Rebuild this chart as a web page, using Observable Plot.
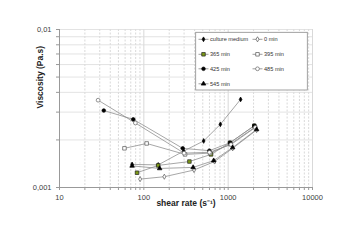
<!DOCTYPE html>
<html><head><meta charset="utf-8">
<script src="https://cdn.jsdelivr.net/npm/d3@7"></script>
<script src="https://cdn.jsdelivr.net/npm/@observablehq/plot@0.6"></script>
<style>body{margin:0;background:#fff;} #chart{width:351px;height:248px;}</style>
</head><body><div id="chart"></div>
<script>
// Data (shear rate s^-1, viscosity Pa.s)
const cultureX = [72.6, 148, 297, 512, 808, 1404];
const cultureY = [0.00140, 0.00139, 0.00170, 0.00197, 0.00251, 0.00361];
const min0X = [90.3, 175, 394, 690, 1130, 2174];
const min0Y = [0.00113, 0.00117, 0.00129, 0.00146, 0.00177, 0.00231];
const min365X = [83, 148, 347, 627, 1052, 2040];
const min365Y = [0.00124, 0.00138, 0.00146, 0.00162, 0.00192, 0.00246];
const min395X = [58.9, 108, 308, 610, 1060, 2080];
const min395Y = [0.00177, 0.00190, 0.00162, 0.00165, 0.00188, 0.00241];
const min425X = [33.5, 75, 289, 598, 1052, 2040];
const min425Y = [0.00307, 0.00270, 0.00177, 0.00171, 0.00192, 0.00246];
const min485X = [28.7, 79.4, 300, 600, 1080, 2100];
const min485Y = [0.00357, 0.00256, 0.00165, 0.00167, 0.00187, 0.00240];
const min545X = [72.6, 154, 384, 673, 1130, 2174];
const min545Y = [0.00137, 0.00132, 0.00134, 0.00148, 0.00179, 0.00233];

const seriesNames = ["culture medium", "0 min", "365 min", "395 min", "425 min", "485 min", "545 min"];
const seriesX = [cultureX, min0X, min365X, min395X, min425X, min485X, min545X];
const seriesY = [cultureY, min0Y, min365Y, min395Y, min425Y, min485Y, min545Y];

const majorXTicks = [10, 100, 1000, 10000];
const yTickLabels = ["0,001", "0,01"];
const xTitle = "shear rate (s\u207B\u00B9)";
const yTitle = "Viscosity (Pa.s)";

// styles
const styles = [
  {symbol: "diamond", fill: "#000", stroke: "#000", r: 1.45, d3s: d3.symbolDiamond},
  {symbol: "diamond", fill: "#fff", stroke: "#555", r: 1.55, d3s: d3.symbolDiamond},
  {symbol: "square", fill: "#7d9a16", stroke: "#222", r: 2.0, d3s: d3.symbolSquare},
  {symbol: "square", fill: "#fff", stroke: "#555", r: 2.0, d3s: d3.symbolSquare},
  {symbol: "circle", fill: "#000", stroke: "#000", r: 1.8, d3s: d3.symbolCircle},
  {symbol: "circle", fill: "#fff", stroke: "#666", r: 1.9, d3s: d3.symbolCircle},
  {symbol: "triangle", fill: "#000", stroke: "#000", r: 1.7, d3s: d3.symbolTriangle}
];

const rows = [];
seriesNames.forEach((name, i) => {
  seriesX[i].forEach((x, j) => rows.push({series: name, idx: i, x, y: seriesY[i][j]}));
});

const allX = [];
for (let e = 1; e < 4; e++) for (let m = 1; m < 10; m++) allX.push(m * 10 ** e);
allX.push(10000);
const minorX = allX.filter(d => !majorXTicks.includes(d));
const allY = [];
for (let m = 1; m < 10; m++) allY.push(m / 1000);
allY.push(0.01);

const lineMarks = seriesNames.map((name, i) =>
  Plot.line(rows.filter(r => r.idx === i), {x: "x", y: "y", stroke: "#8a8a8a", strokeWidth: 0.75}));
const dotMarks = seriesNames.map((name, i) =>
  Plot.dot(rows.filter(r => r.idx === i), {x: "x", y: "y", symbol: () => styles[i].symbol,
    fill: styles[i].fill, stroke: styles[i].stroke, strokeWidth: 0.7, r: styles[i].r}));

const chart = Plot.plot({
  width: 351, height: 248,
  marginLeft: 59, marginRight: 39, marginTop: 29, marginBottom: 61,
  style: {fontFamily: "'Liberation Sans', Arial, sans-serif", fontSize: "7.5px", color: "#404040", background: "white"},
  x: {type: "log", domain: [10, 10000]},
  y: {type: "log", domain: [0.001, 0.01]},
  symbol: {type: "identity"},
  marks: [
    Plot.gridX(minorX, {stroke: "#c9c9c9", strokeOpacity: 1, strokeDasharray: "2,1.5", strokeWidth: 0.7}),
    Plot.gridX([100, 1000, 10000], {stroke: "#cfcfcf", strokeOpacity: 1, strokeWidth: 0.8}),
    Plot.gridY(allY.slice(1), {stroke: "#dcdcdc", strokeOpacity: 1, strokeWidth: 0.8}),
    Plot.axisX(allX, {tickSize: 3, tickPadding: 4, stroke: "#999", label: null,
      tickFormat: d => majorXTicks.includes(d) ? String(d) : ""}),
    Plot.axisY(allY, {tickSize: 3, tickPadding: 5, stroke: "#999", label: null,
      tickFormat: d => d === 0.001 ? yTickLabels[0] : (Math.abs(d - 0.01) < 1e-9 ? yTickLabels[1] : "")}),
    Plot.ruleX([10], {stroke: "#999"}),
    Plot.ruleY([0.001], {stroke: "#999"}),
    ...lineMarks,
    ...dotMarks,
    Plot.text([xTitle], {frameAnchor: "bottom", dy: 18, fontWeight: "bold", fontSize: 8.5, fill: "#222"}),
    Plot.text([yTitle], {frameAnchor: "left", dx: -19, rotate: -90, fontWeight: "bold", fontSize: 8.5, fill: "#222"})
  ]
});
document.getElementById("chart").append(chart);

// Legend (drawn inside the SVG)
const svg = d3.select(chart);
const lg = svg.append("g").attr("font-family", "'Liberation Sans', Arial, sans-serif")
  .attr("font-size", 5.6).attr("fill", "#333").attr("text-anchor", "start");
lg.append("rect").attr("x", 195.7).attr("y", 32.3).attr("width", 111.6).attr("height", 57.7)
  .attr("fill", "#fff").attr("stroke", "#8a8a8a").attr("stroke-width", 0.8);
const pos = [[0, 0], [1, 0], [0, 1], [1, 1], [0, 2], [1, 2], [0, 3]];
const colX = [198.5, 252.5];
const rowY = [39.3, 54.3, 68.8, 83.8];
seriesNames.forEach((name, i) => {
  const x0 = colX[pos[i][0]], y0 = rowY[pos[i][1]];
  lg.append("line").attr("x1", x0).attr("x2", x0 + 10).attr("y1", y0).attr("y2", y0)
    .attr("stroke", "#858585").attr("stroke-width", 0.8);
  lg.append("path").attr("transform", `translate(${x0 + 5},${y0})`)
    .attr("d", d3.symbol(styles[i].d3s, styles[i].r * styles[i].r * Math.PI)())
    .attr("fill", styles[i].fill).attr("stroke", styles[i].stroke).attr("stroke-width", 0.7);
  lg.append("text").attr("x", x0 + 11.5).attr("y", y0).attr("dy", "0.35em")
    .attr("text-anchor", "start").text(name);
});
</script></body></html>
